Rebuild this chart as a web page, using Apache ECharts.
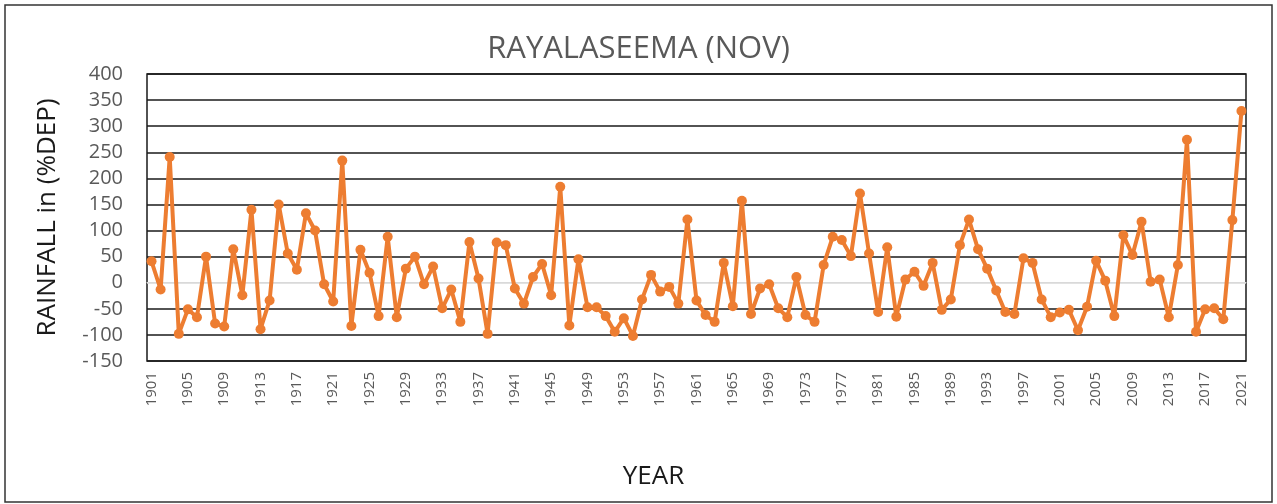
<!DOCTYPE html>
<html>
<head>
<meta charset="utf-8">
<script src="https://cdn.jsdelivr.net/npm/echarts@6/dist/echarts.min.js"></script>
<style>
    html, body { margin: 0; padding: 0; background: #fff; }
    #chart { width: 1277px; height: 504px; }
</style>
</head>
<body>
<div id="chart"></div>
<script>
    const startYear = 1901;
    const endYear = 2021;

    // November rainfall departure (%), 1901..2021
    const depValues = [
        41, -13, 241, -98, -51, -66, 50, -78, -84, 64,
        -24, 140, -89, -34, 150, 56, 25, 133, 100, -3,
        -36, 234, -83, 63, 19, -64, 88, -66, 27, 50,
        -3, 31, -49, -13, -75, 78, 8, -98, 77, 72,
        -11, -40, 11, 36, -24, 184, -82, 45, -47, -47,
        -64, -94, -68, -102, -32, 15, -17, -8, -40, 121,
        -34, -62, -75, 38, -45, 157, -60, -11, -3, -49,
        -66, 11, -62, -75, 34, 88, 82, 51, 171, 56,
        -56, 68, -65, 6, 21, -6, 38, -52, -32, 72,
        121, 64, 27, -15, -56, -60, 47, 38, -32, -66,
        -57, -52, -91, -46, 42, 4, -64, 91, 53, 117,
        2, 6, -66, 34, 274, -94, -51, -49, -70, 120,
        329
    ];

    const years = [];
    for (let y = startYear; y <= endYear; y++) years.push(String(y));

    const yMin = -150;
    const yMax = 400;
    const yStep = 50;

    // black grid lines, light gray one at zero
    const splitColors = [];
    for (let v = yMin; v <= yMax; v += yStep) {
        splitColors.push(v === 0 ? '#d9d9d9' : '#1a1a1a');
    }

    const chart = echarts.init(document.getElementById('chart'));

    chart.setOption({
        backgroundColor: '#fff',
        animation: false,
        title: {
            text: 'RAYALASEEMA (NOV)',
            left: 'center',
            top: 29,
            textStyle: {
                fontFamily: 'Open Sans',
                fontWeight: 'normal',
                fontSize: 31,
                color: '#595959'
            }
        },
        graphic: [{
            type: 'rect',
            shape: { x: 5, y: 5, width: 1267, height: 497 },
            style: { fill: 'none', stroke: '#333', lineWidth: 1.5 },
            silent: true
        }],
        grid: {
            left: 147,
            right: 31,
            top: 74,
            bottom: 143,
            show: true,
            borderColor: '#1a1a1a',
            borderWidth: 1.5
        },
        xAxis: {
            type: 'category',
            data: years,
            boundaryGap: true,
            name: 'YEAR',
            nameLocation: 'middle',
            nameGap: 103,
            nameTextStyle: {
                fontFamily: 'Open Sans',
                fontSize: 26,
                color: '#1a1a1a',
                padding: [0, 86, 0, 0]
            },
            axisLine: { onZero: true, lineStyle: { color: '#d9d9d9', width: 1 } },
            axisTick: { show: false },
            axisLabel: {
                interval: 3,
                rotate: 90,
                margin: 11,
                fontFamily: 'Open Sans',
                fontSize: 15,
                color: '#595959'
            },
            splitLine: { show: false }
        },
        yAxis: {
            type: 'value',
            min: yMin,
            max: yMax,
            interval: yStep,
            name: 'RAINFALL in (%DEP)',
            nameLocation: 'middle',
            nameGap: 86,
            nameTextStyle: {
                fontFamily: 'Open Sans',
                fontSize: 26,
                color: '#1a1a1a'
            },
            axisLine: { show: false },
            axisTick: { show: false },
            axisLabel: {
                margin: 24,
                fontFamily: 'Open Sans',
                fontSize: 20,
                color: '#595959'
            },
            splitLine: { show: true, lineStyle: { color: splitColors, width: 1.5 } }
        },
        series: [{
            type: 'line',
            data: depValues,
            symbol: 'circle',
            symbolSize: 10,
            showAllSymbol: true,
            lineStyle: { color: '#ED7D31', width: 4 },
            itemStyle: { color: '#ED7D31' },
            z: 5
        }]
    });
</script>
</body>
</html>
